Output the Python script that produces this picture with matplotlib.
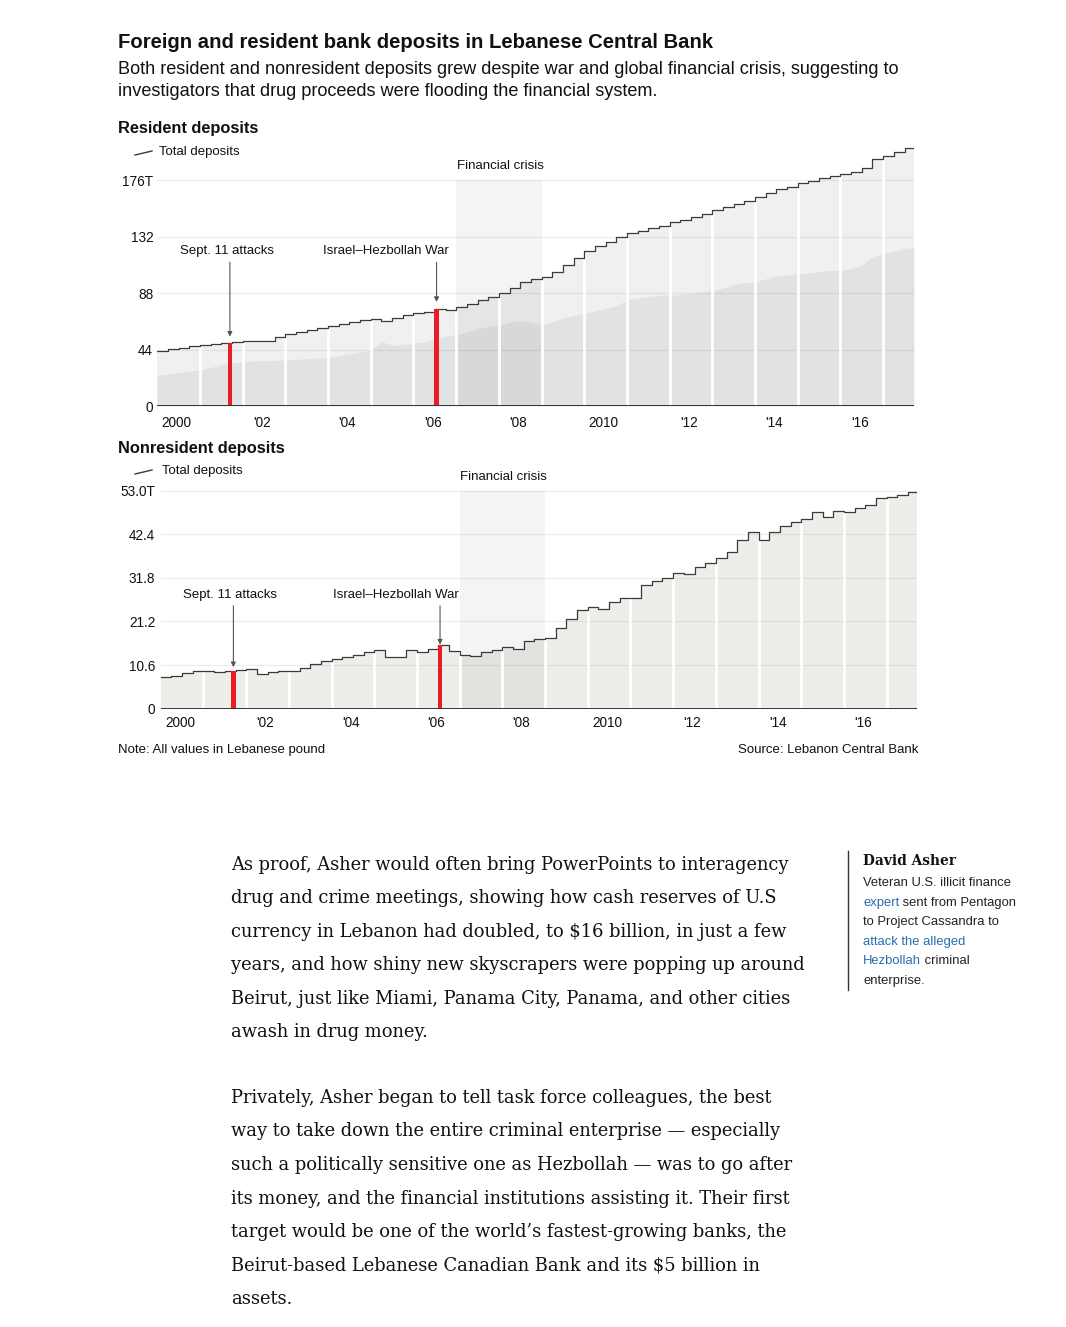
import numpy as np
import matplotlib
matplotlib.use("Agg")
import matplotlib.pyplot as plt
from matplotlib import patheffects as pe
from matplotlib.lines import Line2D

W, H = 1066, 1327
SANS = "Liberation Sans"
SERIF = "DejaVu Serif"

# Quarterly readings, 2000 Q1 .. 2017 Q3 (trillion Lebanese pounds)
QUARTERS = np.arange(2000, 2017.75, 0.25)
END = 2017.72

RESIDENT_TOTAL = [
    43.2, 44.3, 45.4, 46.4,  47.5, 48.4, 49.3, 50.2,  51.0, 50.8, 50.6, 53.5,
    56.0, 57.6, 59.2, 60.8,  62.3, 63.8, 65.3, 66.8,  67.8, 66.4, 68.6, 70.6,
    72.2, 73.4, 75.5, 74.5,  77.3, 79.8, 82.3, 84.8,  87.8, 92.0, 96.8, 98.8,
    100.2, 104.0, 109.5, 115.5,  121.0, 124.5, 128.0, 131.5,  134.5, 136.5, 138.5, 140.5,
    143.5, 145.0, 147.0, 149.5,  152.6, 155.0, 157.5, 160.0,  163.0, 166.0, 168.8, 170.5,
    173.4, 175.5, 177.5, 179.2,  180.7, 182.5, 185.0, 192.0,  194.7, 197.5, 201.0,
]
RESIDENT_FOREIGN = [
    23.8, 24.8, 26.0, 27.0,  28.0, 30.0, 32.0, 33.5,  34.5, 35.0, 35.3, 35.6,
    35.8, 36.3, 36.8, 37.4,  37.9, 39.0, 40.5, 42.0,  43.6, 50.1, 47.5, 48.0,
    48.8, 50.0, 52.0, 54.0,  55.3, 57.5, 60.0, 62.0,  63.1, 65.0, 66.4, 65.0,
    63.1, 65.5, 68.5, 70.5,  72.2, 74.0, 76.0, 78.0,  82.6, 84.0, 85.3, 86.2,
    86.4, 86.8, 87.5, 89.0,  89.8, 92.0, 94.5, 96.0,  96.8, 99.0, 101.2, 102.0,
    102.6, 103.5, 104.5, 105.5,  105.9, 107.0, 109.5, 116.3,  118.5, 120.5, 123.0,
]
NONRESIDENT_TOTAL = [
    7.8, 8.0, 8.6, 9.1,  9.2, 9.0, 9.25, 9.4,  9.6, 8.4, 8.8, 9.2,
    9.25, 10.0, 10.8, 11.5,  12.0, 12.5, 13.1, 13.9,  14.3, 12.5, 12.6, 14.3,
    13.9, 14.6, 15.5, 14.0,  13.1, 12.8, 13.9, 14.2,  14.9, 14.4, 16.5, 17.0,
    17.1, 19.5, 21.8, 24.0,  24.7, 24.2, 26.0, 27.0,  26.8, 30.1, 31.0, 31.8,
    33.1, 32.7, 34.5, 35.5,  36.7, 38.2, 41.0, 43.0,  41.0, 43.0, 44.5, 45.5,
    46.0, 47.7, 46.5, 48.1,  47.9, 48.7, 49.5, 51.2,  51.4, 52.0, 52.7,
]

EVENT_DATES = [2001.70, 2006.54]
EVENT_NAMES = ["Sept. 11 attacks", "Israel\u2013Hezbollah War"]
CRISIS = (2007, 2009)

YEAR_TICKS = [2000, 2002, 2004, 2006, 2008, 2010, 2012, 2014, 2016]
YEAR_LABELS = ["2000", "'02", "'04", "'06", "'08", "2010", "'12", "'14", "'16"]
TOP_TICKS = [0, 44, 88, 132, 176]
TOP_LABELS = ["0", "44", "88", "132", "176T"]
BOT_TICKS = [0, 10.6, 21.2, 31.8, 42.4, 53.0]
BOT_LABELS = ["0", "10.6", "21.2", "31.8", "42.4", "53.0T"]

PARA1 = [
    "As proof, Asher would often bring PowerPoints to interagency",
    "drug and crime meetings, showing how cash reserves of U.S",
    "currency in Lebanon had doubled, to \\$16 billion, in just a few",
    "years, and how shiny new skyscrapers were popping up around",
    "Beirut, just like Miami, Panama City, Panama, and other cities",
    "awash in drug money.",
]
PARA2 = [
    "Privately, Asher began to tell task force colleagues, the best",
    "way to take down the entire criminal enterprise \u2014 especially",
    "such a politically sensitive one as Hezbollah \u2014 was to go after",
    "its money, and the financial institutions assisting it. Their first",
    "target would be one of the world\u2019s fastest-growing banks, the",
    "Beirut-based Lebanese Canadian Bank and its \\$5 billion in",
    "assets.",
]
BLUE = "#2a6cb3"
SIDEBAR = [
    [("Veteran U.S. illicit finance", "#222222")],
    [("expert", BLUE), (" sent from Pentagon", "#222222")],
    [("to Project Cassandra to", "#222222")],
    [("attack the alleged", BLUE)],
    [("Hezbollah", BLUE), (" criminal", "#222222")],
    [("enterprise.", "#222222")],
]

LINE_COLOR = "#3a3a3a"
LOCAL_FILL = "#eff0ef"
FOREIGN_FILL = "#e1e2e3"
NONRES_FILL = "#edede9"
RED = "#ec1c24"

fig = plt.figure(figsize=(W / 100, H / 100), dpi=100)
bg = fig.add_axes([0, 0, 1, 1])
bg.set_xlim(0, W)
bg.set_ylim(H, 0)
bg.axis("off")


def axes_px(left, top, right, bottom):
    return fig.add_axes([left / W, 1 - bottom / H, (right - left) / W, (bottom - top) / H])


def extend(vals):
    return np.append(QUARTERS, END), np.append(vals, vals[-1])


def value_at(vals, date):
    return vals[np.searchsorted(QUARTERS, date, side="right") - 1]


def draw_panel(ax, total, foreign, fill, ylim, ticks, labels, gap_pad, arrows):
    xs, ys = extend(total)
    ax.fill_between(xs, 0, ys, step="post", color=fill, lw=0, zorder=1)
    if foreign is not None:
        xf, yf = extend(foreign)
        ax.fill_between(xf, 0, yf, color=FOREIGN_FILL, lw=0, zorder=1.2)
    # financial crisis band
    ax.fill_between(CRISIS, 0, ticks[-1], color="black", alpha=0.045, lw=0, zorder=1.8)
    # white gaps between years
    for yr in range(2001, 2018):
        i = np.searchsorted(QUARTERS, yr)
        ax.vlines(yr, 0, max(total[i - 1], total[i]) + gap_pad, color="white", lw=2.0, zorder=3)
    ax.step(xs, ys, where="post", color=LINE_COLOR, lw=0.9, zorder=4)
    # event bars and arrows
    for date, (tip, start) in zip(EVENT_DATES, arrows):
        ax.bar(date, value_at(total, date), width=0.11, color=RED, lw=0, zorder=5)
        ax.annotate("", xy=(date, tip), xytext=(date, start),
                    arrowprops=dict(arrowstyle="-|>", color="#555555", lw=0.8,
                                    mutation_scale=7, shrinkA=0, shrinkB=0),
                    zorder=6)
    ax.axhline(0, color="#333333", lw=1.4, zorder=7)

    ax.set_xlim(2000, END)
    ax.set_ylim(*ylim)
    ax.set_yticks(ticks)
    ax.set_yticklabels(labels)
    ax.set_xticks([y + 0.45 for y in YEAR_TICKS])
    ax.set_xticklabels(YEAR_LABELS)
    ax.tick_params(length=0, labelsize=9.8, colors="#111111")
    for lab in ax.get_xticklabels() + ax.get_yticklabels():
        lab.set_family(SANS)
    ax.yaxis.grid(True, color="black", alpha=0.07, lw=0.9)
    ax.set_axisbelow(False)
    ax.set_facecolor("none")
    for s in ax.spines.values():
        s.set_visible(False)


# --- top panel: resident deposits
ax1 = axes_px(157.3, 142.8, 913.9, 406)
draw_panel(ax1, RESIDENT_TOTAL, RESIDENT_FOREIGN, LOCAL_FILL, (0, 205),
           TOP_TICKS, TOP_LABELS, 1.6, [(54, 112), (81, 112)])
ax1.tick_params(axis="x", pad=7)
ax1.tick_params(axis="y", pad=3)

# --- bottom panel: nonresident deposits
ax2 = axes_px(160.8, 484.5, 917.4, 708.7)
draw_panel(ax2, NONRESIDENT_TOTAL, None, NONRES_FILL, (0, 54.5),
           BOT_TICKS, BOT_LABELS, 0.5, [(10.1, 25), (15.6, 25)])
ax2.tick_params(axis="x", pad=5)
ax2.tick_params(axis="y", pad=4)


# --- text in pixel coordinates
def t(x, y, s, size, **kw):
    kw.setdefault("family", SANS)
    kw.setdefault("color", "#111111")
    kw.setdefault("va", "center")
    return bg.text(x, y, s, fontsize=size, **kw)


t(118, 43, "Foreign and resident bank deposits in Lebanese Central Bank", 14.6, weight="bold")
t(118, 69, "Both resident and nonresident deposits grew despite war and global financial crisis, suggesting to", 13.1)
t(118, 92, "investigators that drug proceeds were flooding the financial system.", 13.1)

t(118, 128, "Resident deposits", 11.8, weight="bold")
t(118, 448, "Nonresident deposits", 11.8, weight="bold")

for (x0, y0, x1, y1, tx, ty) in [(135, 155, 152, 151, 159, 152), (135, 474, 152, 470, 162, 471)]:
    bg.add_line(Line2D([x0, x1], [y0, y1], color=LINE_COLOR, lw=1))
    t(tx, ty, "Total deposits", 9.5)

t(500, 166, "Financial crisis", 9.5, ha="center")
t(503, 477, "Financial crisis", 9.5, ha="center")
t(227, 251, EVENT_NAMES[0], 9.5, ha="center")
t(386, 251, EVENT_NAMES[1], 9.5, ha="center")
t(230, 595, EVENT_NAMES[0], 9.5, ha="center")
t(396, 595, EVENT_NAMES[1], 9.5, ha="center")

halo = [pe.withStroke(linewidth=3, foreground="white")]
for x, y, s in [(908, 212, "Resident deposits\nin local currency"),
                (908, 376, "Resident deposits\nin foreign currency"),
                (910, 644, "Deposits of\nnonresidents")]:
    t(x, y, s, 9.2, ha="right", weight="bold", color="#9b9b9b",
      linespacing=1.25, path_effects=halo, zorder=10)

t(118, 750, "Note: All values in Lebanese pound", 9.5)
t(918, 750, "Source: Lebanon Central Bank", 9.5, ha="right")

# --- article body
for i, line in enumerate(PARA1):
    t(231, 865 + i * 33.4, line, 12.9, family=SERIF)
for i, line in enumerate(PARA2):
    t(231, 1098 + i * 33.5, line, 12.9, family=SERIF)

# --- sidebar
bg.add_line(Line2D([848, 848], [851, 990], color="#333333", lw=1))
t(863, 861, "David Asher", 9.9, family=SERIF, weight="bold")
for i, parts in enumerate(SIDEBAR):
    y = 883 + i * 19.6
    txt = t(863, y, parts[0][0], 9.4, color=parts[0][1])
    for s, c in parts[1:]:
        txt = bg.annotate(s, xy=(1, 0), xycoords=txt, va="bottom", ha="left",
                          fontsize=9.4, family=SANS, color=c)

fig.savefig("out.png", dpi=100)
